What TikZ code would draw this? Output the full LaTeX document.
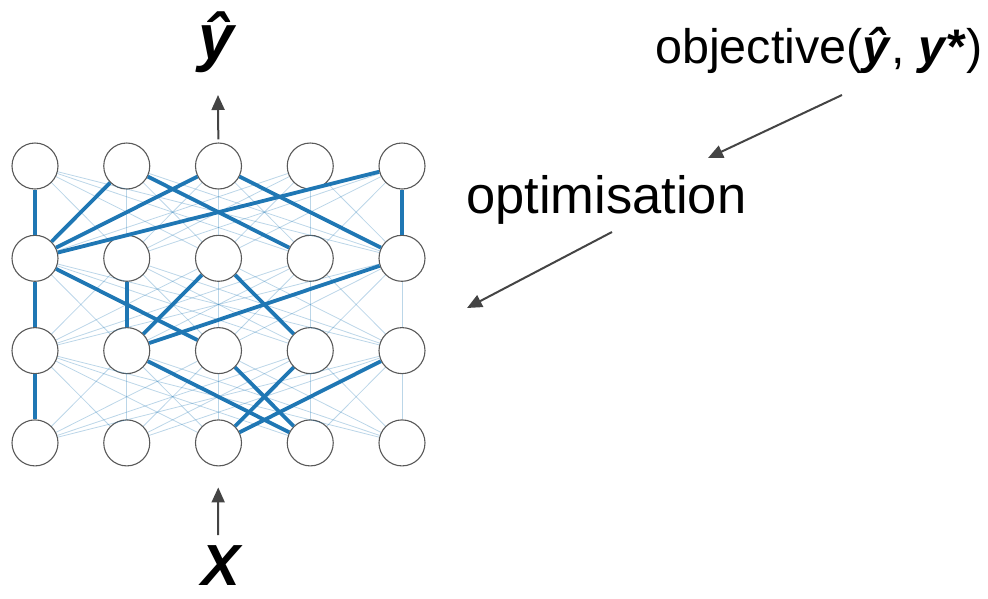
\documentclass[tikz,border=0pt]{standalone}
\usepackage{fontspec}
\setmainfont{Liberation Sans}
\usetikzlibrary{arrows.meta}
\definecolor{thickblue}{HTML}{1F77B4}
\definecolor{arrgray}{HTML}{444444}
\tikzset{
  neuron/.style={circle, draw=black!65, line width=1.1pt, fill=white, minimum size=46pt, inner sep=0pt},
  thinedge/.style={draw=thickblue, opacity=0.3, line width=0.8pt},
  thickedge/.style={draw=thickblue, line width=3.8pt},
  arr/.style={draw=arrgray, line width=2pt, -{Triangle[length=15pt,width=13pt]}},
  objlbl/.style={inner sep=0pt, font=\fontsize{48.5}{54}\selectfont},
  optlbl/.style={inner sep=0pt, font=\fontsize{52.5}{58}\selectfont},
  biglbl/.style={inner sep=0pt, font=\fontsize{64}{70}\selectfont\bfseries\itshape},
  xlbl/.style={inner sep=0pt, font=\fontsize{58}{64}\selectfont\bfseries\itshape}
}
\begin{document}
\begin{tikzpicture}[x=1pt,y=-1pt]
\useasboundingbox (0,0) rectangle (988,598);
% neurons
\foreach \r in {1,...,4}{
  \foreach \c in {1,...,5}{
    \node[neuron] (n-\r-\c) at ({35+91.75*(\c-1)},{166+92.3*(\r-1)}) {};
  }
}
% faint connections
\foreach \r [evaluate=\r as \s using int(\r+1)] in {1,2,3}{
  \foreach \c in {1,...,5}{
    \foreach \d in {1,...,5}{
      \draw[thinedge] (n-\r-\c) -- (n-\s-\d);
    }
  }
}
% strong connections
\foreach \a/\b in {1-1/2-1, 1-2/2-1, 1-3/2-1, 1-5/2-1, 1-2/2-4, 1-3/2-5, 1-5/2-5,
                   2-1/3-1, 2-1/3-3, 2-2/3-2, 2-3/3-2, 2-3/3-4, 2-5/3-2,
                   3-1/4-1, 3-2/4-4, 3-3/4-4, 3-4/4-3, 3-5/4-3}{
  \draw[thickedge] (n-\a) -- (n-\b);
}
% labels
\node[biglbl, anchor=base] (yhat) at (216,59) {ŷ};
\node[xlbl, anchor=base] (xin) at (221,585) {X};
\node[objlbl, anchor=base west] (obj) at (655,63) {objective(\textbf{\textit{ŷ}}, \textbf{\textit{y*}})};
\node[optlbl, anchor=base west] (opt) at (466,213) {optimisation};
% arrows
\coordinate (ytip) at (218,95);
\draw[arr, shorten <=3pt] (n-1-3) -- (ytip);
\coordinate (xtail) at (218,535);
\draw[arr, shorten >=21pt] (xtail) -- (n-4-3);
\coordinate (oa) at (842,95);
\coordinate (ob) at (708,158);
\draw[arr] (oa) -- (ob);
\coordinate (pa) at (612,232);
\coordinate (pb) at (467,308);
\draw[arr] (pa) -- (pb);
\end{tikzpicture}
\end{document}
